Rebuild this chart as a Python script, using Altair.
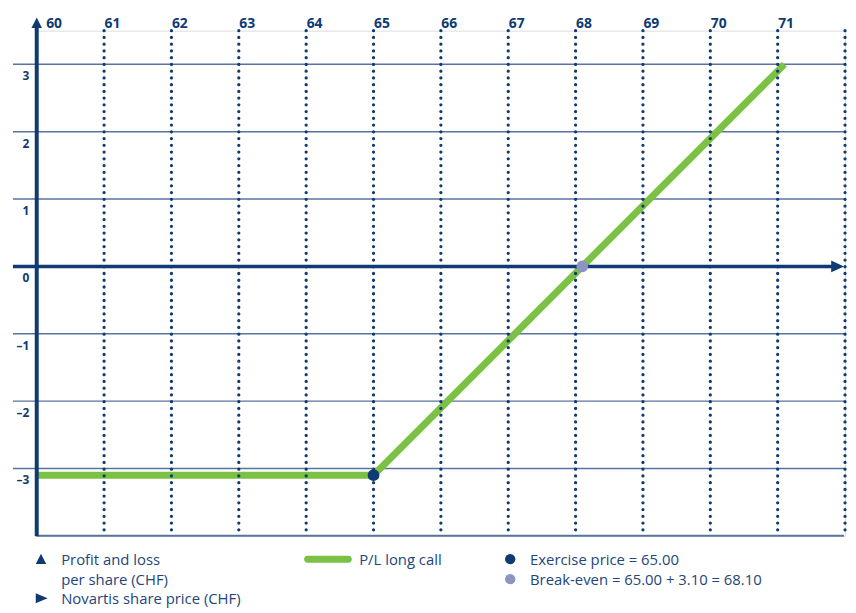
import altair as alt
import pandas as pd

# ---- data ----
price_labels = [60, 61, 62, 63, 64, 65, 66, 67, 68, 69, 70, 71]
price_grid = [61, 62, 63, 64, 65, 66, 67, 68, 69, 70, 71, 72]
pl_labels = [3, 2, 1, 0, -1, -2, -3]
pl_grid = [3, 2, 1, -1, -2, -3]
call_price = [60.0, 65.0, 71.1]
call_pl = [-3.1, -3.1, 3.0]
exercise_price = [65.0]
exercise_pl = [-3.1]
breakeven_price = [68.1]
breakeven_pl = [0.0]

NAVY = "#0f3a72"
GRID = "#5873a0"
GREEN = "#7bc143"
BE = "#8b94c3"
TEXT = "#22467c"
FONT = "Open Sans"

W, H = 816, 510
xs = alt.Scale(domain=[60, 72], nice=False, zero=False)
ys = alt.Scale(domain=[-4, 3.5], nice=False, zero=False)

x_axis = alt.Axis(
    orient="top", values=price_labels, title=None, domain=False, ticks=False,
    tickSize=0, grid=False, labelAlign="left", labelBaseline="alphabetic",
    labelPadding=3, labelFlush=False, labelOverlap=False,
    labelOffset={"condition": {"test": "datum.value === 60", "value": 9}, "value": 0},
    labelFont=FONT, labelFontSize=14, labelFontWeight="bold", labelColor=NAVY,
)
y_axis = alt.Axis(
    orient="left", values=pl_labels, title=None, domain=False, ticks=False,
    tickSize=0, grid=False, labelAlign="right", labelBaseline="middle",
    labelPadding=8, labelOffset=11.5, labelOverlap=False, labelFlush=False,
    labelExpr="datum.value < 0 ? '\u2013' + abs(datum.value) : '' + datum.value",
    labelFont=FONT, labelFontSize=12, labelFontWeight="bold", labelColor=NAVY,
)

X = lambda f: alt.X(f, type="quantitative", scale=xs, axis=x_axis)
Y = lambda f: alt.Y(f, type="quantitative", scale=ys, axis=y_axis)

one = pd.DataFrame({"a": [0]})

hgrid = alt.Chart(pd.DataFrame({"v": pl_grid})).mark_rule(
    color=GRID, strokeWidth=1.5
).encode(y=Y("v"), x=alt.value(-24), x2=alt.value(815))

bottom = alt.Chart(pd.DataFrame({"v": [-4]})).mark_rule(
    color=GRID, strokeWidth=2
).encode(y=Y("v"), x=alt.value(0), x2=alt.value(815))

call = alt.Chart(pd.DataFrame({"p": call_price, "pl": call_pl})).mark_line(
    color=GREEN, strokeWidth=7, strokeCap="butt", strokeJoin="miter"
).encode(x=X("p"), y=Y("pl"))

vgrid = alt.Chart(pd.DataFrame({"p": price_grid})).mark_rule(
    color=NAVY, strokeWidth=3.3, strokeDash=[0.01, 6.8], strokeCap="round"
).encode(x=X("p"), y=alt.value(0), y2=alt.value(H))

xline = alt.Chart(pd.DataFrame({"v": [0]})).mark_rule(
    color=NAVY, strokeWidth=3.5
).encode(y=Y("v"), x=alt.value(-24), x2=alt.value(804))

xarrow = alt.Chart(pd.DataFrame({"v": [0]})).mark_point(
    shape="M1,0L-1,-0.92L-1,0.92Z", filled=True, color=NAVY, opacity=1, size=169
).encode(y=Y("v"), x=alt.value(808.5))

yline = alt.Chart(pd.DataFrame({"v": [60]})).mark_rule(
    color=NAVY, strokeWidth=4
).encode(x=X("v"), y=alt.value(-3), y2=alt.value(H + 0.5))

yarrow = alt.Chart(pd.DataFrame({"v": [60]})).mark_point(
    shape="M0,-1L1,1L-1,1Z", filled=True, color=NAVY, opacity=1, size=110
).encode(x=X("v"), y=alt.value(-8))

ex_pt = alt.Chart(pd.DataFrame({"p": exercise_price, "pl": exercise_pl})).mark_circle(
    color=NAVY, opacity=1, size=140
).encode(x=X("p"), y=Y("pl"))

be_pt = alt.Chart(pd.DataFrame({"p": breakeven_price, "pl": breakeven_pl})).mark_circle(
    color=BE, opacity=1, size=140
).encode(x=X("p"), y=Y("pl"))


def ltext(t, x, y):
    return alt.Chart(one).mark_text(
        text=t, align="left", baseline="middle", font=FONT, fontSize=15, color=TEXT
    ).encode(x=alt.value(x), y=alt.value(y))


def lsym(shape, x, y, size, color):
    return alt.Chart(one).mark_point(
        shape=shape, filled=True, color=color, opacity=1, size=size
    ).encode(x=alt.value(x), y=alt.value(y))


leg_line = alt.Chart(one).mark_rule(
    color=GREEN, strokeWidth=7, strokeCap="round"
).encode(x=alt.value(273.5), x2=alt.value(314.5), y=alt.value(533.7))

legend = [
    lsym("M0,-1L1,1L-1,1Z", 4.3, 533.3, 110, NAVY),
    ltext("Profit and loss", 24.7, 534.3),
    ltext("per share (CHF)", 24.7, 554.7),
    lsym("M1,0L-1,-0.83L-1,0.83Z", 5, 573, 144, NAVY),
    ltext("Novartis share price (CHF)", 24.7, 573.5),
    leg_line,
    ltext("P/L long call", 325.5, 534.3),
    lsym("circle", 478, 533.5, 110, NAVY),
    ltext("Exercise price = 65.00", 498, 534.3),
    lsym("circle", 478, 553.7, 110, BE),
    ltext("Break-even = 65.00 + 3.10 = 68.10", 498, 554.7),
]

chart = alt.layer(
    hgrid, bottom, call, vgrid, xline, xarrow, yline, yarrow, ex_pt, be_pt, *legend
).properties(
    width=W, height=H,
    autosize=alt.AutoSizeParams(type="none"),
    padding={"left": 29, "top": 20, "right": 3, "bottom": 73},
).configure_view(stroke=None).configure(background="white")

chart.save("out.html", embed_options={"renderer": "svg", "actions": False})
